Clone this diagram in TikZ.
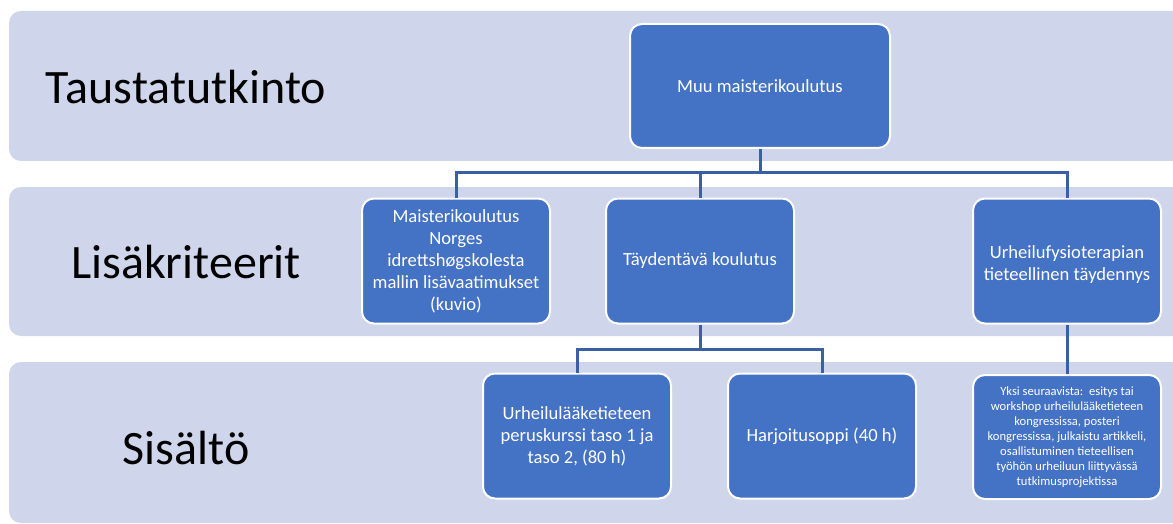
\documentclass[tikz,border=0pt]{standalone}
\usepackage{fontspec}
\setmainfont{Carlito}
\definecolor{bandfill}{HTML}{CFD5EA}
\definecolor{boxfill}{HTML}{4472C4}
\definecolor{linkcol}{HTML}{3A5FA3}
\begin{document}
\begin{tikzpicture}[x=1pt,y=-1pt,
  band/.style={fill=bandfill, rounded corners=12pt},
  box/.style={draw=white, line width=2pt, fill=boxfill, rounded corners=12pt,
    text=white, align=center, inner sep=0pt, minimum width=188pt,
    minimum height=125pt, font=\fontsize{18.6}{22}\selectfont},
  smallbox/.style={box, font=\fontsize{12.6}{15}\selectfont},
  rowlabel/.style={font=\fontsize{48}{56}\selectfont, text=black, inner sep=0pt},
  link/.style={draw=linkcol, line width=3pt}]
\useasboundingbox (0,0) rectangle (1173,524);
\clip (0,0) rectangle (1173,524);
\fill[white] (0,0) rectangle (1173,524);

% background bands
\path[band] (9,11) rectangle (1190,161);
\path[band] (9,187) rectangle (1190,336);
\path[band] (9,362) rectangle (1190,523);

% row labels
\node[rowlabel] (l1) at (186,87) {Taustatutkinto};
\node[rowlabel] (l2) at (186,262) {Lisäkriteerit};
\node[rowlabel] (l3) at (186,448) {Sisältö};

% boxes
\node[box, minimum width=260pt, minimum height=124pt] (top) at (760,86) {Muu maisterikoulutus};
\node[box] (b1) at (456,261) {Maisterikoulutus\\Norges\\idrettshøgskolesta\\mallin lisävaatimukset\\(kuvio)};
\node[box] (b2) at (700,261) {Täydentävä koulutus};
\node[box] (b3) at (1067,261) {\\[-2pt]Urheilufysioterapian\\tieteellinen täydennys};
\node[box] (cA) at (577,436) {Urheilulääketieteen\\peruskurssi taso 1 ja\\taso 2, (80 h)};
\node[box] (cB) at (822,436) {Harjoitusoppi (40 h)};
\node[smallbox, minimum height=124pt] (cC) at (1067,437) {Yksi seuraavista:\ \ esitys tai\\workshop urheilulääketieteen\\kongressissa, posteri\\kongressissa, julkaistu artikkeli,\\osallistuminen tieteellisen\\työhön urheiluun liittyvässä\\tutkimusprojektissa};

% connectors
\coordinate (j1) at (760,173);
\coordinate (j2) at (700,349);
\draw[link] (top.south) -- (j1) -| (b1.north);
\draw[link] (j1) -| (b2.north);
\draw[link] (j1) -| (b3.north);
\draw[link] (b2.south) -- (j2) -| (cA.north);
\draw[link] (j2) -| (cB.north);
\draw[link] (b3.south) -- (cC.north);
\end{tikzpicture}
\end{document}
